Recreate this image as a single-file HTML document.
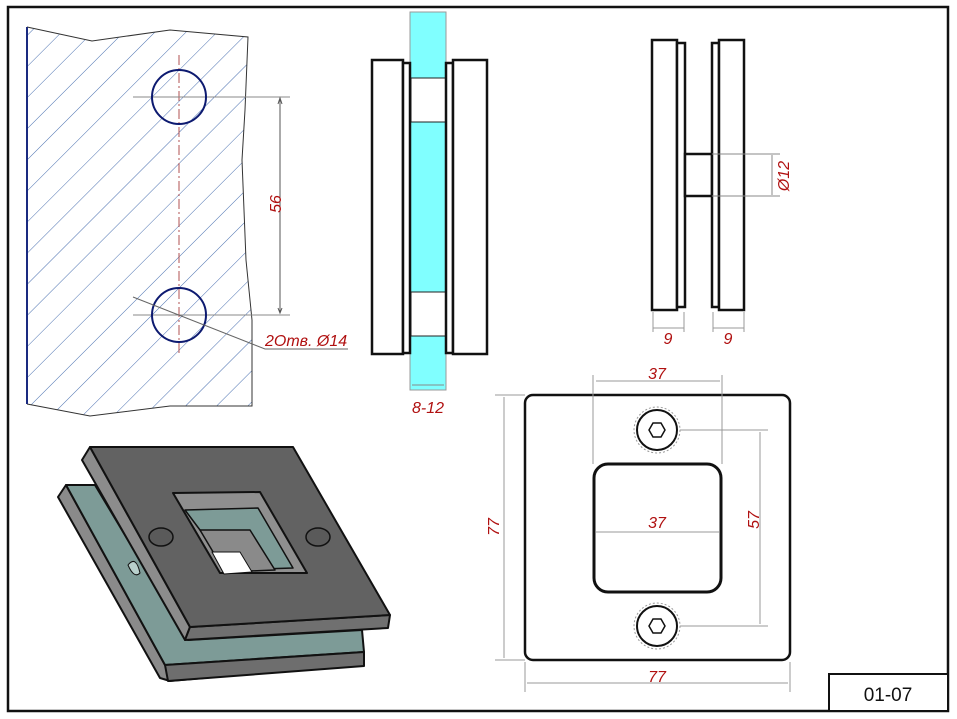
<!DOCTYPE html>
<html><head><meta charset="utf-8"><style>
html,body{margin:0;padding:0;background:#fff;}
svg{display:block;}
text{font-family:"Liberation Sans",sans-serif;}
.dim{fill:#b01010;font-style:italic;font-size:16px;}
</style></head><body>
<svg width="957" height="719" viewBox="0 0 957 719" xmlns="http://www.w3.org/2000/svg">
<defs>
<pattern id="hatch" patternUnits="userSpaceOnUse" width="22" height="22" patternTransform="rotate(45)">
<line x1="0" y1="0" x2="0" y2="22" stroke="#4a70b0" stroke-width="1"/>
</pattern>
<clipPath id="glass"><path d="M27,27 L92,41 L170,30 L248,37 L245,110 L242,160 L246,260 L252,320 L252,406 L170,406 L90,416 L27,404 Z"/></clipPath>
</defs>
<rect x="0" y="0" width="957" height="719" fill="#fff"/>
<rect x="8" y="7" width="940" height="704" fill="none" stroke="#111" stroke-width="2.5"/>
<rect x="829" y="674" width="119" height="37" fill="#fff" stroke="#111" stroke-width="2"/>
<text x="888" y="701" font-size="19" text-anchor="middle" fill="#111">01-07</text>

<!-- glass sketch -->
<g clip-path="url(#glass)"><rect x="20" y="20" width="240" height="400" fill="url(#hatch)"/></g>
<path d="M27,27 L92,41 L170,30 L248,37 L245,110 L242,160 L246,260 L252,320 L252,406 L170,406 L90,416 L27,404" fill="none" stroke="#333" stroke-width="1"/>
<line x1="27" y1="27" x2="27" y2="404" stroke="#1a2a80" stroke-width="2"/>
<line x1="179" y1="55" x2="179" y2="355" stroke="#b05050" stroke-width="1" stroke-dasharray="10,3,2,3"/>
<line x1="133" y1="97" x2="290" y2="97" stroke="#888" stroke-width="1"/>
<line x1="133" y1="315" x2="290" y2="315" stroke="#888" stroke-width="1"/>
<circle cx="179" cy="97" r="27" fill="none" stroke="#0d1a70" stroke-width="2"/>
<circle cx="179" cy="315" r="27" fill="none" stroke="#0d1a70" stroke-width="2"/>
<line x1="280" y1="100" x2="280" y2="312" stroke="#555" stroke-width="1"/>
<path d="M278,104 L280,98 L282,104 M278,308 L280,313 L282,308" stroke="#555" fill="none"/>
<text class="dim" transform="translate(281,204) rotate(-90)" text-anchor="middle">56</text>
<polyline points="133,297 265,349 348,349" fill="none" stroke="#666" stroke-width="1"/>
<text class="dim" x="265" y="346">2Отв. Ø14</text>

<!-- middle side view -->
<rect x="410" y="12" width="36" height="378" fill="#80ffff" stroke="#999" stroke-width="1"/>
<rect x="411" y="78" width="35" height="44" fill="#fff" stroke="#222" stroke-width="1"/>
<rect x="411" y="292" width="35" height="44" fill="#fff" stroke="#222" stroke-width="1"/>
<rect x="372" y="60" width="31" height="294" fill="#fff" stroke="#111" stroke-width="2.5"/>
<rect x="403" y="63" width="7" height="290" fill="#fff" stroke="#111" stroke-width="2.5"/>
<rect x="446" y="63" width="7" height="290" fill="#fff" stroke="#111" stroke-width="2.5"/>
<rect x="453" y="60" width="34" height="294" fill="#fff" stroke="#111" stroke-width="2.5"/>
<line x1="412" y1="385" x2="444" y2="385" stroke="#888"/>
<text class="dim" x="428" y="413" text-anchor="middle">8-12</text>

<!-- right side view -->
<rect x="652" y="40" width="25" height="270" fill="#fff" stroke="#111" stroke-width="2.5"/>
<rect x="677" y="43" width="8" height="264" fill="#fff" stroke="#111" stroke-width="2.5"/>
<rect x="685" y="154" width="27" height="42" fill="#fff" stroke="#111" stroke-width="2.5"/>
<rect x="712" y="43" width="7" height="264" fill="#fff" stroke="#111" stroke-width="2.5"/>
<rect x="719" y="40" width="25" height="270" fill="#fff" stroke="#111" stroke-width="2.5"/>
<line x1="712" y1="154" x2="780" y2="154" stroke="#888"/>
<line x1="712" y1="196" x2="780" y2="196" stroke="#888"/>
<line x1="772" y1="155" x2="772" y2="195" stroke="#888"/>
<text class="dim" transform="translate(789,176) rotate(-90)" text-anchor="middle">Ø12</text>
<line x1="653" y1="312" x2="653" y2="332" stroke="#999"/><line x1="684" y1="312" x2="684" y2="332" stroke="#999"/>
<line x1="653" y1="328" x2="684" y2="328" stroke="#999"/>
<line x1="713" y1="312" x2="713" y2="332" stroke="#999"/><line x1="744" y1="312" x2="744" y2="332" stroke="#999"/>
<line x1="713" y1="328" x2="744" y2="328" stroke="#999"/>
<text class="dim" x="668" y="344" text-anchor="middle">9</text>
<text class="dim" x="728" y="344" text-anchor="middle">9</text>

<!-- front plate view -->
<rect x="525" y="395" width="265" height="265" rx="8" fill="#fff" stroke="#111" stroke-width="2.5"/>
<rect x="594" y="464" width="127" height="128" rx="14" fill="#fff" stroke="#111" stroke-width="3"/>
<g stroke="#999" stroke-width="1" fill="none">
<line x1="593" y1="375" x2="593" y2="464"/><line x1="722" y1="375" x2="722" y2="464"/>
<line x1="596" y1="381" x2="720" y2="381"/>
<line x1="596" y1="532" x2="719" y2="532"/>
<line x1="495" y1="395" x2="525" y2="395"/><line x1="495" y1="660" x2="525" y2="660"/>
<line x1="504" y1="397" x2="504" y2="658"/>
<line x1="525" y1="662" x2="525" y2="692"/><line x1="790" y1="662" x2="790" y2="692"/>
<line x1="527" y1="683" x2="788" y2="683"/>
<line x1="660" y1="430" x2="768" y2="430"/><line x1="660" y1="626" x2="768" y2="626"/>
<line x1="760" y1="432" x2="760" y2="624"/>
</g>
<text class="dim" x="657" y="379" text-anchor="middle">37</text>
<text class="dim" x="657" y="528" text-anchor="middle">37</text>
<text class="dim" x="657" y="682" text-anchor="middle">77</text>
<text class="dim" transform="translate(499,527) rotate(-90)" text-anchor="middle">77</text>
<text class="dim" transform="translate(759,520) rotate(-90)" text-anchor="middle">57</text>
<g fill="#fff">
<circle cx="657" cy="430" r="23" stroke="#999" stroke-dasharray="2,2"/>
<circle cx="657" cy="430" r="20" stroke="#111" stroke-width="2"/>
<polygon points="649,430 653,423 661,423 665,430 661,437 653,437" stroke="#111" stroke-width="1.5"/>
<circle cx="657" cy="626" r="23" stroke="#999" stroke-dasharray="2,2"/>
<circle cx="657" cy="626" r="20" stroke="#111" stroke-width="2"/>
<polygon points="649,626 653,619 661,619 665,626 661,633 653,633" stroke="#111" stroke-width="1.5"/>
</g>

<!-- 3D view -->
<g stroke="#111" stroke-width="2" stroke-linejoin="round">
<polygon points="58,497 66,485 165,665 360,652 364,664 170,681 160,678" fill="#8a8a8a"/>
<polygon points="66,485 95,485 188,640 362,630 364,652 165,665" fill="#7d9b97"/>
<polygon points="165,665 364,652 364,666 168,681" fill="#6e6e6e"/>
<polygon points="82,460 90,447 190,627 185,640" fill="#8c8c8c"/>
<polygon points="190,627 390,615 388,628 185,640" fill="#707070"/>
<polygon points="90,447 293,447 390,615 190,627" fill="#626262"/>
<polygon points="173,493 260,492 307,573 220,573" fill="#8f8f8f"/>
<polygon points="185,510 258,508 293,568 230,570" fill="#7d9b97" stroke-width="1.5"/>
<polygon points="200,530 250,530 275,570 225,572" fill="#8a8a8a" stroke-width="1.5"/>
<polygon points="212,552 240,552 252,572 224,574" fill="#fff" stroke-width="1"/>
<ellipse cx="161" cy="537" rx="12" ry="9" fill="#5a5a5a" stroke-width="1.5"/>
<ellipse cx="318" cy="537" rx="12" ry="9" fill="#5a5a5a" stroke-width="1.5"/>
<path d="M128,565 q8,-10 12,8 q-6,6 -12,-8z" fill="#b8d0cc" stroke-width="1"/>
</g>
</svg>
</body></html>
